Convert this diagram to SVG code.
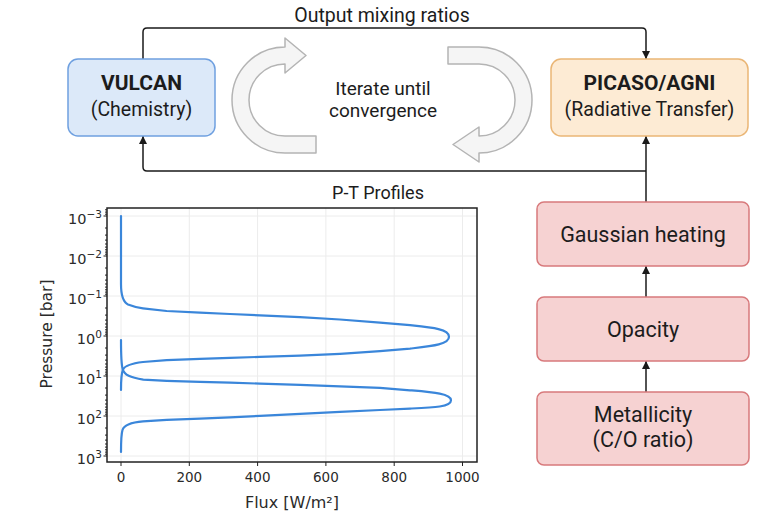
<svg xmlns="http://www.w3.org/2000/svg" width="782" height="524" viewBox="0 0 782 524">
<defs>
<marker id="ah" markerWidth="9" markerHeight="9" refX="8" refY="4" orient="auto" markerUnits="userSpaceOnUse"><path d="M0,0 L8,4 L0,8 Z" fill="#1a1a1a"/></marker>
<style>
.t{font-family:Roboto,"Liberation Sans",sans-serif;fill:#1c1c1c;text-anchor:middle}
.b{font-weight:bold}
.p{font-family:"DejaVu Sans","Liberation Sans",sans-serif;fill:#2a2a2a}
.conn{fill:none;stroke:#1a1a1a;stroke-width:1.5}
.loop{fill:#f5f5f5;stroke:#b4b4b4;stroke-width:1.5;stroke-linejoin:round}
.pink{fill:#f6d2d2;stroke:#d87a7c;stroke-width:1.5}
.curve{fill:none;stroke:#3a86da;stroke-width:2.2;stroke-linejoin:round;stroke-linecap:round}
.grid{stroke:#ececec;stroke-width:1;fill:none}
.tick{stroke:#222;stroke-width:1;fill:none}
</style>
</defs>
<rect width="782" height="524" fill="#ffffff"/>

<g id="connectors">
<path class="conn" d="M143,59 L143,32 Q143,28 147,28 L642,28 Q646,28 646,32 L646,59" marker-end="url(#ah)"/>
<path class="conn" d="M646,202 L646,136" marker-end="url(#ah)"/>
<path class="conn" d="M646,171 L147,171 Q143,171 143,167 L143,136" marker-end="url(#ah)"/>
<path class="conn" d="M646,297 L646,266" marker-end="url(#ah)"/>
<path class="conn" d="M646,392 L646,361" marker-end="url(#ah)"/>
</g>

<text class="t" x="382" y="22" font-size="19.5">Output mixing ratios</text>

<g id="vulcan">
<rect x="68" y="59" width="147" height="77" rx="10" fill="#dce9f9" stroke="#6fa0e0" stroke-width="1.5"/>
<text class="t b" x="141.5" y="89.5" font-size="21">VULCAN</text>
<text class="t" x="141.5" y="116" font-size="19.5">(Chemistry)</text>
</g>

<g id="picaso">
<rect x="551" y="59" width="197" height="77" rx="10" fill="#fdebd4" stroke="#eab676" stroke-width="1.5"/>
<text class="t b" x="649.5" y="90" font-size="21">PICASO/AGNI</text>
<text class="t" x="649.5" y="116" font-size="19.5">(Radiative Transfer)</text>
</g>

<g id="iterate">
<path class="loop" d="M316,136 L285,136 A36,36 0 0 1 285,64 L285,73 L306,55.5 L285,38 L285,47 A53,53 0 0 0 285,153 L316,153 Z"/>
<path class="loop" d="M448,64 L479,64 A36,36 0 0 1 479,136 L479,127 L453,144.5 L479,162 L479,153 A53,53 0 0 0 479,47 L448,47 Z"/>
<text class="t" x="383" y="95" font-size="19">Iterate until</text>
<text class="t" x="383" y="117" font-size="19">convergence</text>
</g>

<g id="gaussian">
<rect class="pink" x="537" y="202" width="212" height="64" rx="7"/>
<text class="t" x="643" y="241.5" font-size="21.5">Gaussian heating</text>
</g>
<g id="opacity">
<rect class="pink" x="537" y="297" width="212" height="64" rx="7"/>
<text class="t" x="643" y="336.5" font-size="21.5">Opacity</text>
</g>
<g id="metallicity">
<rect class="pink" x="537" y="392" width="212" height="73" rx="7"/>
<text class="t" x="643" y="422" font-size="21.5">Metallicity</text>
<text class="t" x="643" y="447" font-size="21.5">(C/O ratio)</text>
</g>

<g id="plot">
<text class="t" x="378" y="199" font-size="18">P-T Profiles</text>
<path class="grid" d="M121,208V462M189.3,208V462M257.6,208V462M325.9,208V462M394.2,208V462M462.5,208V462M107,216H477M107,256H477M107,296H477M107,336H477M107,376H477M107,416H477M107,456H477"/>
<path class="curve" d="M121,216 L121,284 C121,296 123,302 128,304.5 C133,306.5 138,307.7 143,308.3 L166.7,311 L200,312.6 L230,314 L260,315.3 L300,317.2 L340,319.5 L380,322.6 L410,325.2 C432,327.5 449,329 449,336.7 C449,344.4 432,346 410,348.6 L380,351.2 L340,353.8 L300,355.6 L260,356.9 L230,357.8 L200,358.9 L166.7,360.2 L143,362 C133,363.2 125,365 123,369.5 C121.5,373 121,378 121,390"/>
<path class="curve" d="M121,340 C121,358 121.5,365 122.7,369.3 C124.5,375 130,377.5 143.3,379.6 L166.7,380.8 L200,381.8 L230,382.7 L260,383.6 L300,384.9 L340,386.3 L380,387.9 L410,390.3 C433,392.2 451,393.5 451,400.2 C451,407 433,407.6 410,408.6 L380,410 L340,411.9 L300,413.9 L260,415.9 L230,417.3 L200,418.6 L166.7,419.9 L143,421.4 C130,422.5 124,425 122.5,430 C121.3,434 121,438 121,452"/>
<rect x="107" y="208" width="370" height="254" fill="none" stroke="#222" stroke-width="1.5"/>
<path class="tick" d="M121,462v4M189.3,462v4M257.6,462v4M325.9,462v4M394.2,462v4M462.5,462v4M107,216h-3.5M107,256h-3.5M107,296h-3.5M107,336h-3.5M107,376h-3.5M107,416h-3.5M107,456h-3.5"/>
<path class="tick" d="M107,209.8h-2M107,212.1h-2M107,214.2h-2M107,228h-2M107,235.1h-2M107,240.1h-2M107,244h-2M107,247.1h-2M107,249.8h-2M107,252.1h-2M107,254.2h-2M107,268h-2M107,275.1h-2M107,280.1h-2M107,284h-2M107,287.1h-2M107,289.8h-2M107,292.1h-2M107,294.2h-2M107,308h-2M107,315.1h-2M107,320.1h-2M107,324h-2M107,327.1h-2M107,329.8h-2M107,332.1h-2M107,334.2h-2M107,348h-2M107,355.1h-2M107,360.1h-2M107,364h-2M107,367.1h-2M107,369.8h-2M107,372.1h-2M107,374.2h-2M107,388h-2M107,395.1h-2M107,400.1h-2M107,404h-2M107,407.1h-2M107,409.8h-2M107,412.1h-2M107,414.2h-2M107,428h-2M107,435.1h-2M107,440.1h-2M107,444h-2M107,447.1h-2M107,449.8h-2M107,452.1h-2M107,454.2h-2"/>
<g class="p" font-size="14.5" text-anchor="end">
<text x="102" y="224">10<tspan dy="-6.5" font-size="10.5">−3</tspan></text>
<text x="102" y="264">10<tspan dy="-6.5" font-size="10.5">−2</tspan></text>
<text x="102" y="304">10<tspan dy="-6.5" font-size="10.5">−1</tspan></text>
<text x="102" y="344">10<tspan dy="-6.5" font-size="10.5">0</tspan></text>
<text x="102" y="384">10<tspan dy="-6.5" font-size="10.5">1</tspan></text>
<text x="102" y="424">10<tspan dy="-6.5" font-size="10.5">2</tspan></text>
<text x="102" y="464">10<tspan dy="-6.5" font-size="10.5">3</tspan></text>
</g>
<g class="p" font-size="13.5" text-anchor="middle">
<text x="121" y="481.5">0</text>
<text x="189.3" y="481.5">200</text>
<text x="257.6" y="481.5">400</text>
<text x="325.9" y="481.5">600</text>
<text x="394.2" y="481.5">800</text>
<text x="462.5" y="481.5">1000</text>
</g>
<text class="p" x="292" y="508" font-size="16" text-anchor="middle">Flux [W/m²]</text>
<text class="p" transform="translate(52,334) rotate(-90)" x="0" y="0" font-size="15.5" text-anchor="middle">Pressure [bar]</text>
</g>
</svg>
